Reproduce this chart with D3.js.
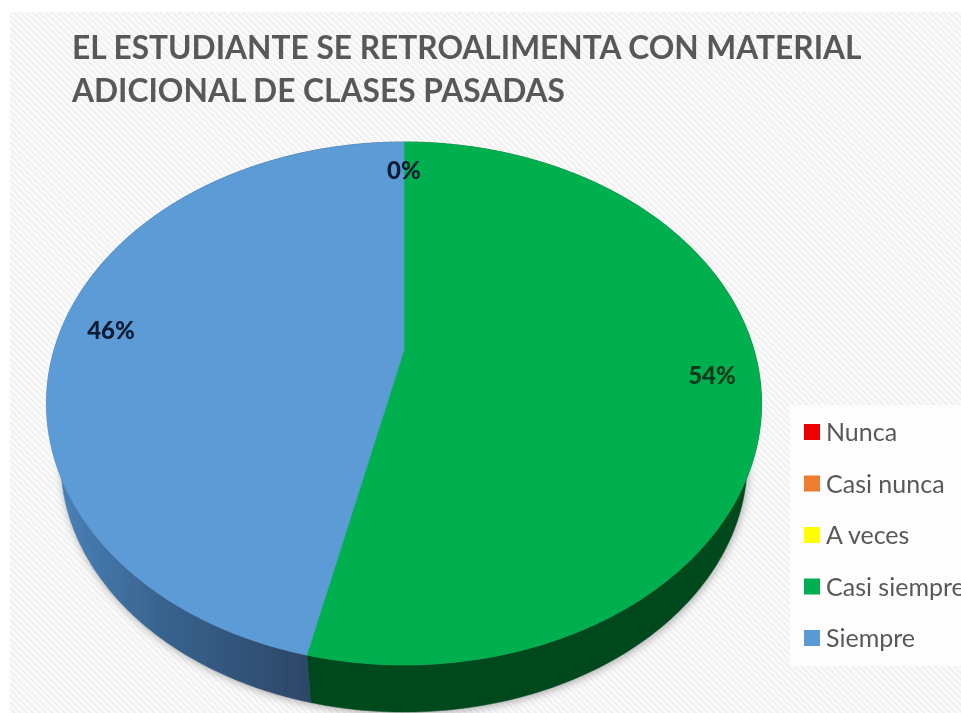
<!DOCTYPE html>
<meta charset="utf-8">
<body style="margin:0;background:#fff">
<script src="https://d3js.org/d3.v7.min.js"></script>
<script>
var titleLines = ["EL ESTUDIANTE SE RETROALIMENTA CON MATERIAL", "ADICIONAL DE CLASES PASADAS"];
var categories = ["Nunca", "Casi nunca", "A veces", "Casi siempre", "Siempre"];
// 54% / 46%, the boundary fits 15 and 13 answers out of 28
var values = [0, 0, 0, 15, 13];
var colors = ["#ee0000", "#ed7d31", "#ffff00", "#00b050", "#5b9bd5"];
var sideColors = ["#7a0000", "#8a4a1d", "#8a8a00", "#04491f", "#2f4f75"];

var width = 961, height = 713;
var svg = d3.select("body").append("svg")
    .attr("width", width).attr("height", height)
    .style("display", "block");
var defs = svg.append("defs");

// diagonal hatch of the chart area
var hatch = defs.append("pattern")
    .attr("id", "hatch").attr("width", 4.5).attr("height", 4.5)
    .attr("patternUnits", "userSpaceOnUse")
    .attr("patternTransform", "rotate(-45)");
hatch.append("rect").attr("width", 4.5).attr("height", 4.5).attr("fill", "#fbfbfb");
hatch.append("rect").attr("width", 2).attr("height", 4.5).attr("fill", "#f0f0f0");

var blueSide = defs.append("linearGradient")
    .attr("id", "blueSide").attr("gradientUnits", "userSpaceOnUse")
    .attr("x1", 60).attr("x2", 310).attr("y1", 0).attr("y2", 0);
blueSide.append("stop").attr("offset", 0).attr("stop-color", "#4a80b8");
blueSide.append("stop").attr("offset", 0.4).attr("stop-color", "#38648f");
blueSide.append("stop").attr("offset", 1).attr("stop-color", "#2d4567");

var blur = defs.append("filter").attr("id", "shadow")
    .attr("x", "-10%").attr("y", "-10%").attr("width", "120%").attr("height", "120%");
blur.append("feGaussianBlur").attr("stdDeviation", 4);

var soft = defs.append("filter").attr("id", "soft");
soft.append("feGaussianBlur").attr("stdDeviation", 0.6);

svg.append("rect").attr("x", 10).attr("y", 12)
    .attr("width", width - 10).attr("height", height - 12)
    .attr("fill", "url(#hatch)");

// title
svg.append("g").selectAll("text").data(titleLines).join("text")
    .attr("x", 72)
    .attr("y", function(d, i) { return 59 + i * 43; })
    .attr("font-family", "Lato")
    .attr("font-weight", 700)
    .attr("font-size", 31.7)
    .attr("fill", "#595959")
    .attr("filter", "url(#soft)")
    .text(function(d) { return d; });

// pie is seen in perspective, so the centre of the disc sits above the centre of the ellipse
var centerX = 404;
var persp = -0.2046, spreadX = 350, spreadY = 178.95, apexY = 350;
// the lower rim is a smaller ellipse, it only shows from about y=480 down
var rimScale = 0.96, topMidY = 403.5, rimMidY = 461;
function project(angle) {
    var u = Math.sin(angle), v = -Math.cos(angle), w = 1 + persp * v;
    return [centerX + spreadX * u / w, (spreadY * v + apexY) / w];
}
function toRim(p) {
    return [centerX + (p[0] - centerX) * rimScale, rimMidY + (p[1] - topMidY) * rimScale];
}
var line = d3.line();

// clockwise from 12 o'clock, same order as the legend
var slices = d3.pie().sort(null)(values);

function arcPoints(s) {
    var steps = Math.max(2, Math.ceil((s.endAngle - s.startAngle) * 80));
    return d3.range(steps + 1).map(function(i) {
        return project(s.startAngle + (s.endAngle - s.startAngle) * i / steps);
    });
}
var visible = slices.filter(function(s) { return s.value > 0; });

// soft shadow under the disc
var shadowPts = [];
visible.forEach(function(s) { shadowPts = shadowPts.concat(arcPoints(s).map(toRim)); });
svg.append("path")
    .attr("d", line(shadowPts.map(function(p) { return [p[0] + 1, p[1] + 2]; })) + "Z")
    .attr("fill", "#777")
    .attr("opacity", 0.6)
    .attr("filter", "url(#shadow)");

var pie3d = svg.append("g").attr("filter", "url(#soft)");

// side wall
pie3d.append("g").selectAll("path").data(visible).join("path")
    .attr("d", function(s) {
        var top = arcPoints(s);
        return line(top.concat(top.map(toRim).reverse())) + "Z";
    })
    .attr("fill", function(s) { return s.index === 4 ? "url(#blueSide)" : sideColors[s.index]; })
    .attr("stroke", function(s) { return s.index === 4 ? "url(#blueSide)" : sideColors[s.index]; })
    .attr("stroke-width", 0.5);

// top face
pie3d.append("g").selectAll("path").data(visible).join("path")
    .attr("d", function(s) {
        return line([[centerX, apexY]].concat(arcPoints(s))) + "Z";
    })
    .attr("fill", function(s) { return colors[s.index]; })
    .attr("stroke", function(s) { return colors[s.index]; })
    .attr("stroke-width", 0.5);

// data labels, the three empty slices all land on the same spot
var labelPos = {0: [404, 170], 3: [712, 375], 4: [111, 330]};
var pct = d3.format(".0%"), total = d3.sum(values);
svg.append("g").selectAll("text")
    .data(slices.filter(function(s) { return labelPos[s.index]; }))
    .join("text")
    .attr("x", function(s) { return labelPos[s.index][0]; })
    .attr("y", function(s) { return labelPos[s.index][1]; })
    .attr("dy", "0.36em")
    .attr("text-anchor", "middle")
    .attr("font-family", "Lato")
    .attr("font-weight", 900)
    .attr("font-size", 24)
    .attr("fill", function(s) { return s.index === 3 ? "#07381d" : "#0a1a33"; })
    .attr("filter", "url(#soft)")
    .text(function(s) { return pct(s.value / total); });

// legend
var legendY = d3.scalePoint().domain(categories).range([432, 638]);
svg.append("rect")
    .attr("x", 790).attr("y", 405)
    .attr("width", width - 790).attr("height", 261)
    .attr("fill", "#fdfdfd");
var legend = svg.append("g").selectAll("g").data(categories).join("g")
    .attr("transform", function(d) { return "translate(804," + legendY(d) + ")"; });
legend.append("rect")
    .attr("y", -8).attr("width", 16).attr("height", 16)
    .attr("fill", function(d, i) { return colors[i]; });
legend.append("text")
    .attr("x", 22)
    .attr("dy", "0.36em")
    .attr("font-family", "Lato")
    .attr("font-size", 25)
    .attr("fill", "#595959")
    .attr("filter", "url(#soft)")
    .text(function(d) { return d; });
</script>
</body>
